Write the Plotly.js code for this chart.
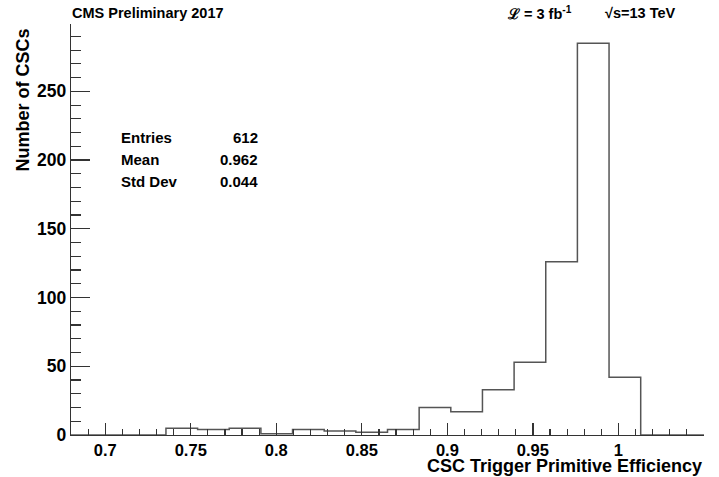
<!DOCTYPE html>
<html>
<head>
<meta charset="utf-8">
<script src="https://cdn.plot.ly/plotly-3.0.1.min.js"></script>
<style>html,body{margin:0;padding:0;background:#fff;}#chart{width:719px;height:477px;}</style>
</head>
<body>
<div id="chart"></div>
<script>
// Histogram definition (ROOT-style TH1: 20 bins from 0.68 to 1.05)
const binLow = 0.68;
const binHigh = 1.05;
const nBins = 20;
const counts = [0, 0, 0, 5, 4, 5, 1, 4, 3, 2, 4, 20, 17, 33, 53, 126, 285, 42, 0, 0];
const statLabels = ["Entries", "Mean", "Std Dev"];
const statValues = ["612", "0.962", "0.044"];
const xTitle = "CSC Trigger Primitive Efficiency";
const yTitle = "Number of CSCs";
const headerLeft = "CMS Preliminary 2017";
const headerLumi = "\u2112 = 3 fb<sup>-1</sup>";
const headerEnergy = "\u221As=13 TeV";

const binWidth = (binHigh - binLow) / nBins;
const xs = [], ys = [];
for (let i = 0; i < nBins; i++) { xs.push(binLow + i * binWidth); ys.push(counts[i]); }
xs.push(binHigh); ys.push(counts[nBins - 1]);

const FONT = "Liberation Sans, Arial, Helvetica, sans-serif";
const axisColor = "#333";

const trace = {
  x: xs, y: ys, type: "scatter", mode: "lines",
  line: {shape: "hv", color: "#555", width: 1.5},
  hoverinfo: "skip"
};

const L = 71, R = 15, T = 24, B = 42;
const plotH = 477 - T - B, plotW = 719 - L - R;
const py = (pix) => (477 - B - pix) / plotH;   // pixel y -> paper y
const px = (pix) => (pix - L) / plotW;         // pixel x -> paper x

const annotations = [];
statLabels.forEach((lab, i) => {
  const rowY = [137, 159, 181][i];
  annotations.push({xref: "paper", yref: "paper", x: px(119), y: py(rowY), xanchor: "left", yanchor: "middle",
    text: "<b>" + lab + "</b>", showarrow: false, font: {family: FONT, size: 15, color: "#000"}});
  annotations.push({xref: "paper", yref: "paper", x: px(260), y: py(rowY), xanchor: "right", yanchor: "middle",
    text: "<b>" + statValues[i] + "</b>", showarrow: false, font: {family: FONT, size: 15, color: "#000"}});
});
annotations.push({xref: "paper", yref: "paper", x: px(70), y: py(13), xanchor: "left", yanchor: "middle",
  text: "<b>" + headerLeft + "</b>", showarrow: false, font: {family: FONT, size: 14.5, color: "#000"}});
annotations.push({xref: "paper", yref: "paper", x: px(505), y: py(13), xanchor: "left", yanchor: "middle",
  text: "<b>" + headerLumi + "</b>", showarrow: false, font: {family: FONT, size: 14.5, color: "#000"}});
annotations.push({xref: "paper", yref: "paper", x: px(677), y: py(13), xanchor: "right", yanchor: "middle",
  text: "<b>" + headerEnergy + "</b>", showarrow: false, font: {family: FONT, size: 14.5, color: "#000"}});
annotations.push({xref: "paper", yref: "paper", x: 1, y: py(466), xanchor: "right", yanchor: "middle",
  text: "<b>" + xTitle + "</b>", showarrow: false, font: {family: FONT, size: 18, color: "#000"}});
annotations.push({xref: "paper", yref: "paper", x: px(22), y: py(27), xanchor: "center", yanchor: "top",
  text: "<b>" + yTitle + "</b>", textangle: -90, showarrow: false, font: {family: FONT, size: 18, color: "#000"}});

const layout = {
  width: 719, height: 477,
  margin: {l: L, r: R, t: T, b: B},
  paper_bgcolor: "#fff", plot_bgcolor: "#fff",
  showlegend: false,
  font: {family: FONT, color: "#000"},
  xaxis: {
    range: [binLow, binHigh], showgrid: false, zeroline: false,
    showline: true, linecolor: axisColor, linewidth: 1.3, mirror: false,
    ticks: "inside", ticklen: 12, tickcolor: axisColor, tickwidth: 1.2,
    tick0: 0.7, dtick: 0.05,
    minor: {ticks: "inside", ticklen: 6, tick0: 0.7, dtick: 0.01, tickcolor: axisColor, tickwidth: 1.2, showgrid: false},
    tickfont: {family: FONT, size: 16.5, color: "#000", weight: "bold"},
    fixedrange: true
  },
  yaxis: {
    range: [0, 299], showgrid: false, zeroline: false,
    showline: true, linecolor: axisColor, linewidth: 1.3, mirror: false,
    ticks: "inside", ticklen: 19, tickcolor: axisColor, tickwidth: 1.2,
    tick0: 0, dtick: 50,
    minor: {ticks: "inside", ticklen: 9.5, tick0: 0, dtick: 10, tickcolor: axisColor, tickwidth: 1.2, showgrid: false},
    tickfont: {family: FONT, size: 17.5, color: "#000", weight: "bold"},
    fixedrange: true
  },
  annotations: annotations
};

Plotly.newPlot("chart", [trace], layout, {displayModeBar: false, staticPlot: true});
</script>
</body>
</html>
